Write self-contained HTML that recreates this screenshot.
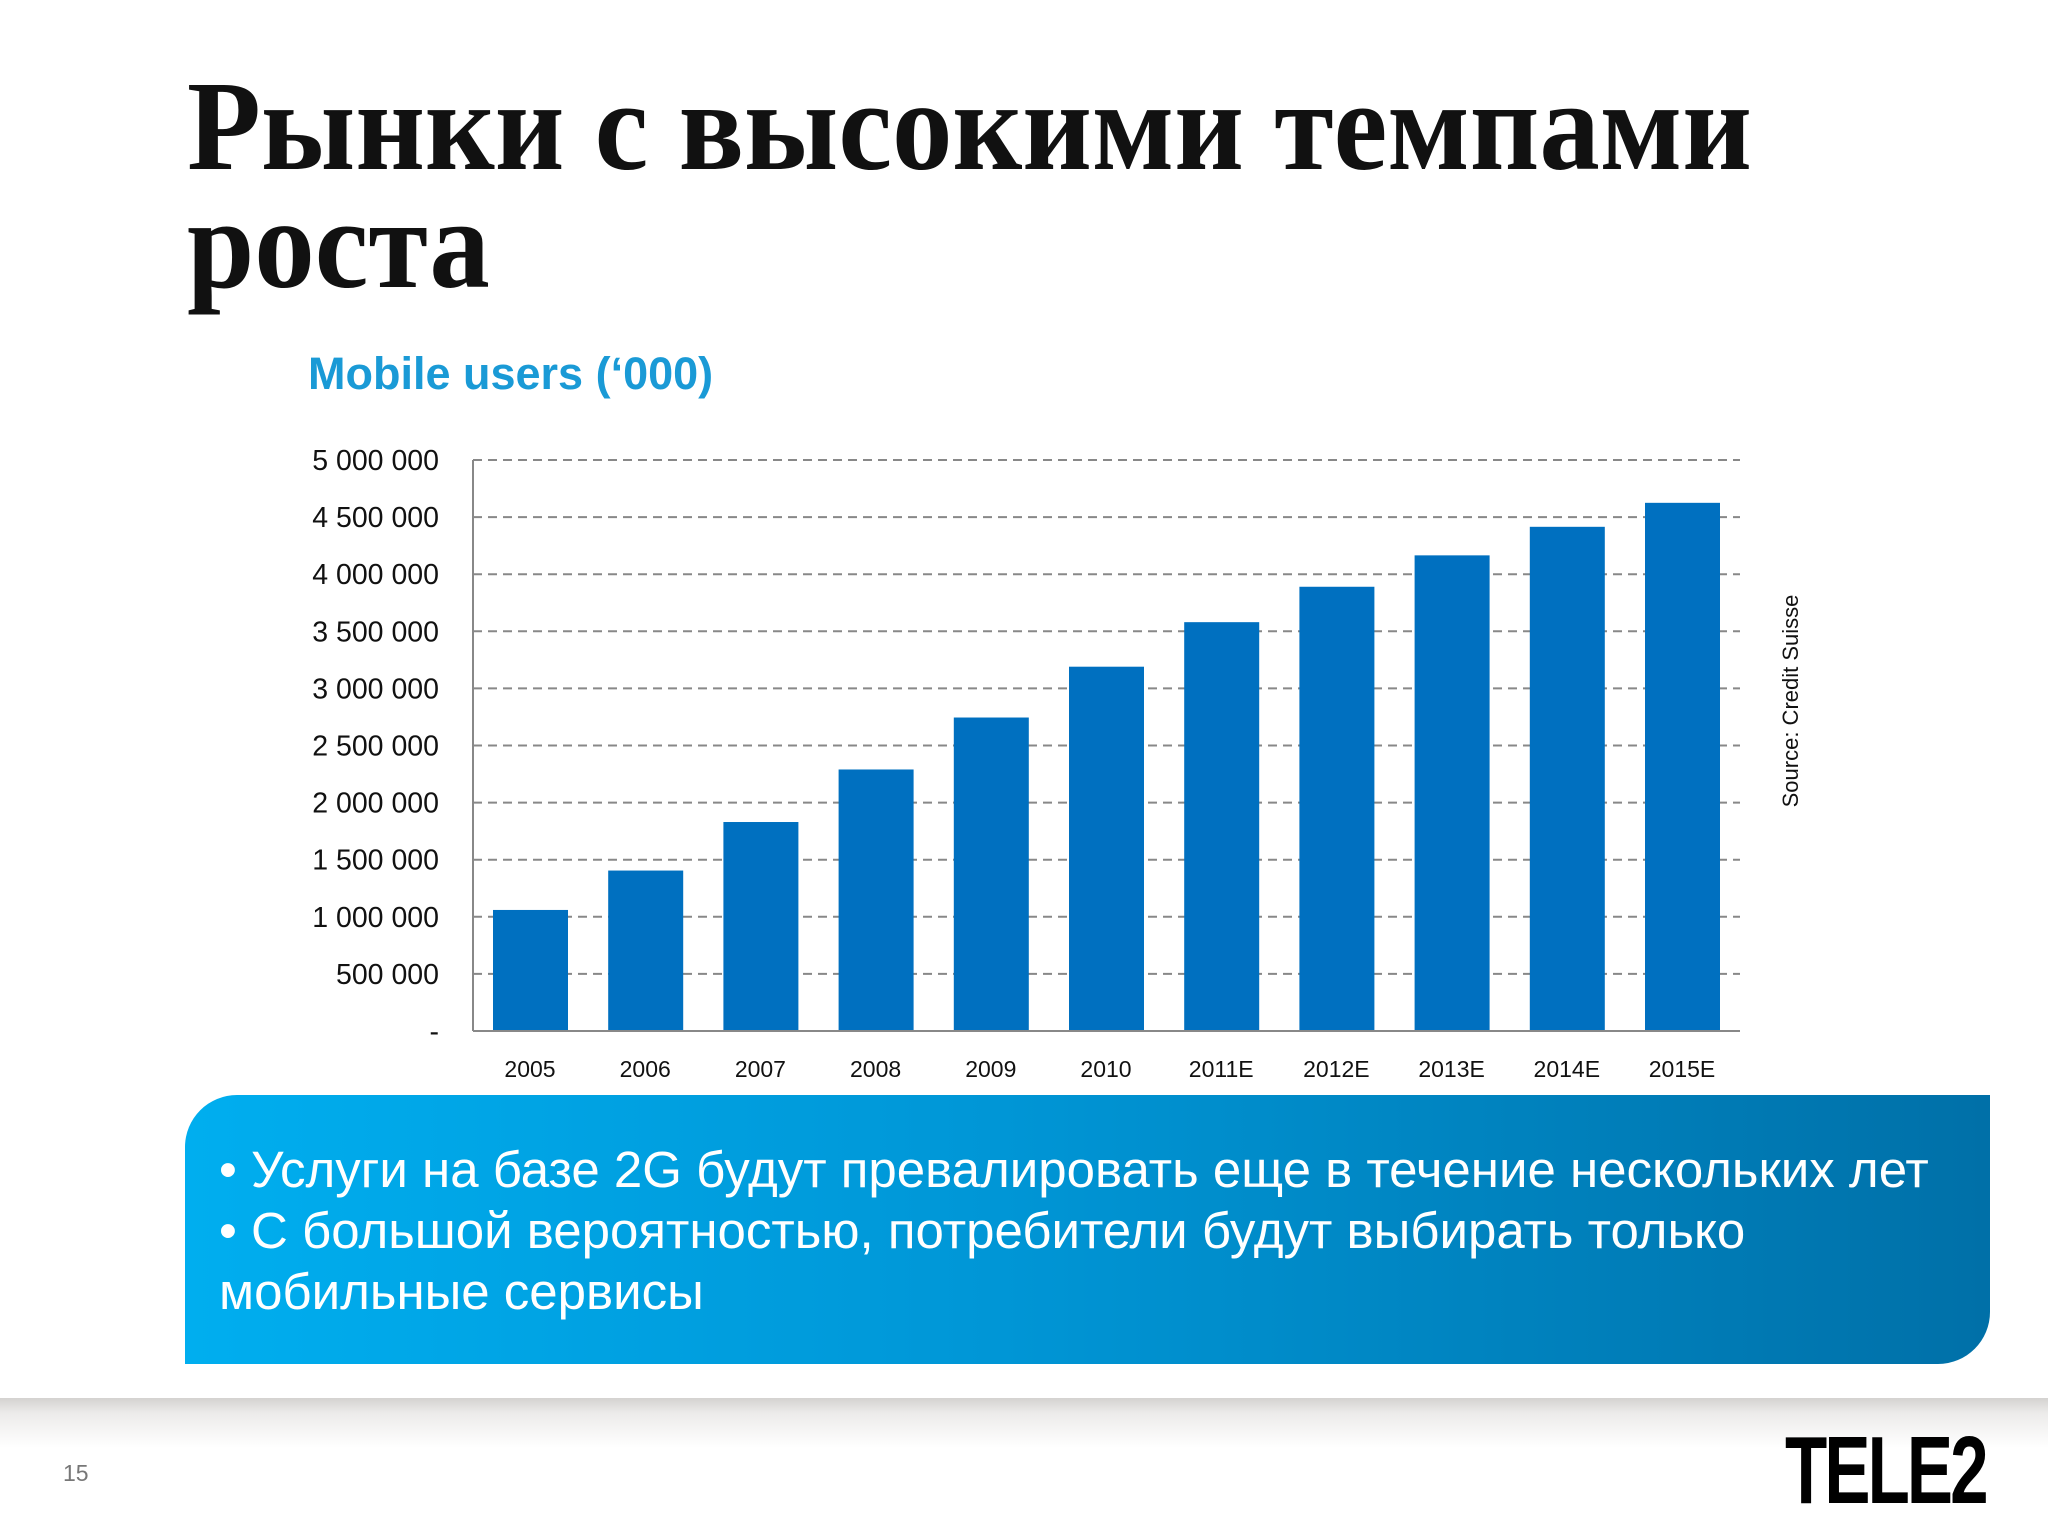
<!DOCTYPE html>
<html><head><meta charset="utf-8">
<style>
html,body{margin:0;padding:0;background:#fff;}
#page{position:relative;width:2048px;height:1536px;overflow:hidden;background:#fff;font-family:"Liberation Sans","DejaVu Sans",sans-serif;}
.title{position:absolute;left:187px;font-family:"Liberation Serif","DejaVu Serif",serif;font-weight:bold;font-size:128px;color:#111;transform-origin:0 0;transform:scaleX(0.945);white-space:nowrap;line-height:1;}
#box{position:absolute;left:185px;top:1095px;width:1805px;height:269px;border-radius:52px 0 52px 0;background:linear-gradient(90deg,#00aeef 0%,#0096d6 45%,#0070a8 100%);}
#box div{position:absolute;left:34px;color:#fff;font-size:51px;white-space:nowrap;}
#footer{position:absolute;left:0;top:1398px;width:2048px;height:50px;background:linear-gradient(180deg,#d4d2d0 0%,#ecebea 30%,#fff 100%);}
</style></head><body>
<div id="page">
<div class="title" style="top:62px">Рынки с высокими темпами</div>
<div class="title" style="top:180px">роста</div>
<div style="position:absolute;left:308px;top:348px;font-size:45px;font-weight:bold;color:#1a9ad6;">Mobile users (‘000)</div>
<svg id="chart" width="2048" height="1536" style="position:absolute;left:0;top:0"></svg>
<div id="box">
<div style="top:45px">• Услуги на базе 2G будут превалировать еще в течение нескольких лет</div>
<div style="top:106px">• С большой вероятностью, потребители будут выбирать только</div>
<div style="top:167px">мобильные сервисы</div>
</div>
<div id="footer"></div>
<div style="position:absolute;left:63px;top:1460px;font-size:23px;color:#777;">15</div>
<div style="position:absolute;left:1785px;top:1416px;font-size:96px;font-weight:900;color:#000;letter-spacing:-4px;transform-origin:0 0;transform:scaleX(0.72);font-family:'Liberation Sans',sans-serif;">TELE2</div>
</div>
<script>
const categories=["2005","2006","2007","2008","2009","2010","2011E","2012E","2013E","2014E","2015E"];
const values=[1060000,1405000,1830000,2290000,2745000,3190000,3580000,3890000,4165000,4415000,4625000];
const tickValues=[0,500000,1000000,1500000,2000000,2500000,3000000,3500000,4000000,4500000,5000000];
const tickLabels=["-","500 000","1 000 000","1 500 000","2 000 000","2 500 000","3 000 000","3 500 000","4 000 000","4 500 000","5 000 000"];
const NS="http://www.w3.org/2000/svg";
const svg=document.getElementById('chart');
const L=473,R=1740,T=460,B=1031,MAX=5000000;
const y=v=>B-(v/MAX)*(B-T);
const step=115.2;
const xc=i=>530+step*i;
function mk(t,a){const e=document.createElementNS(NS,t);for(const k in a)e.setAttribute(k,a[k]);svg.appendChild(e);return e;}
tickValues.forEach((v,i)=>{
 if(v>0){const g=mk('line',{x1:L,x2:R,y1:y(v),y2:y(v),stroke:'#888','stroke-width':2,'stroke-dasharray':'9 6'});
 
 }
 const t=mk('text',{x:439,y:y(v)+10,'text-anchor':'end','font-size':28.5,fill:'#111','font-family':'Liberation Sans, sans-serif'});
 t.textContent=tickLabels[i];
 
 
});
values.forEach((v,i)=>{
 const r=mk('rect',{x:xc(i)-37,y:y(v),width:75,height:B-y(v),fill:'#0070c0'});
 
 
 const t=mk('text',{x:xc(i),y:1077,'text-anchor':'middle','font-size':23,fill:'#111','font-family':'Liberation Sans, sans-serif'});
 t.textContent=categories[i];
 
 
});
const ax=mk('line',{x1:L,x2:L,y1:T,y2:B,stroke:'#888','stroke-width':2});


const bx=mk('line',{x1:L,x2:R,y1:B,y2:B,stroke:'#888','stroke-width':2});


const s=mk('text',{x:0,y:0,'text-anchor':'middle','font-size':22,fill:'#111',transform:'translate(1798,701) rotate(-90)','font-family':'Liberation Sans, sans-serif'});
s.textContent='Source: Credit Suisse';


</script>
</body></html>
